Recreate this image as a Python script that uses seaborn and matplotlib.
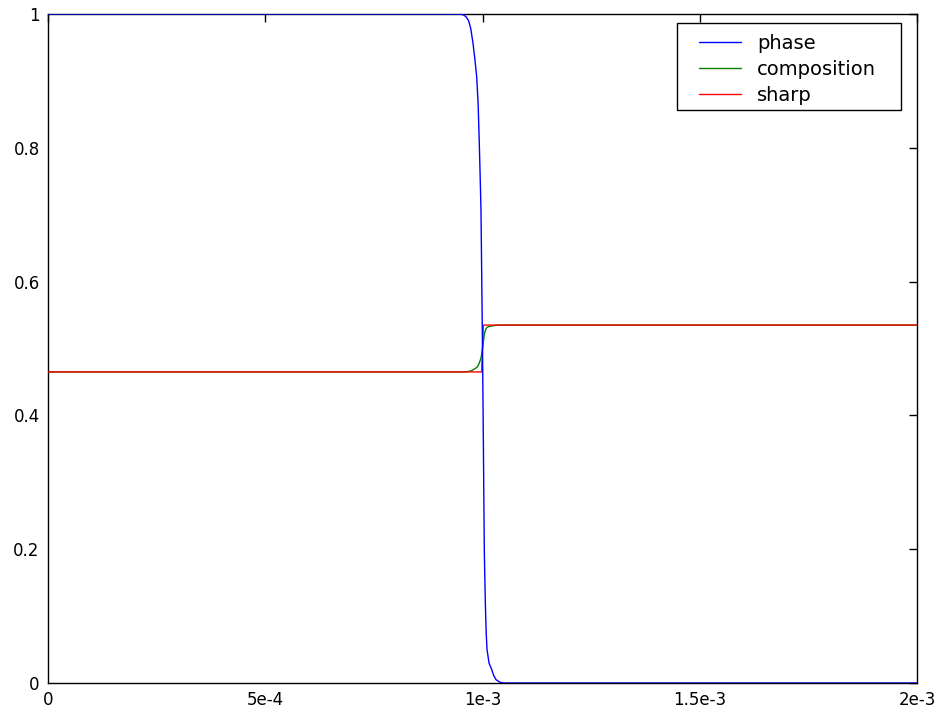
import matplotlib
matplotlib.use("Agg")
import matplotlib.pyplot as plt
from matplotlib.patches import Rectangle
import seaborn as sns
import pandas as pd

# profiles (x in units of 1e-3)
x_phase = [0.0, 0.9, 0.945, 0.955, 0.962, 0.968, 0.973, 0.978, 0.982, 0.9867, 0.990,
           0.9926, 0.9945, 0.9965, 0.998, 1.0, 1.002, 1.0041, 1.0065, 1.0085, 1.0104,
           1.015, 1.0212, 1.026, 1.0311, 1.0403, 1.05, 2.0]
phase = [1.0, 1.0, 1.0, 0.999, 0.996, 0.99, 0.978, 0.957, 0.935, 0.906, 0.865,
         0.807, 0.76, 0.707, 0.62, 0.5, 0.36, 0.2, 0.12, 0.075, 0.05,
         0.03, 0.02, 0.011, 0.005, 0.001, 0.0, 0.0]
composition = [0.465, 0.465, 0.465, 0.465, 0.4653, 0.4657, 0.4665, 0.468, 0.4696, 0.4716, 0.4745,
               0.4785, 0.4818, 0.4855, 0.4916, 0.5, 0.5098, 0.521, 0.5266, 0.5298, 0.5315,
               0.5329, 0.5336, 0.5342, 0.5347, 0.5349, 0.535, 0.535]
x_sharp = [0.0, 0.998, 1.0, 1.002, 2.0]
sharp = [0.465, 0.465, 0.5, 0.535, 0.535]

df_p = pd.DataFrame({"x": [v * 1e-3 for v in x_phase], "phase": phase, "composition": composition})
df_s = pd.DataFrame({"x": [v * 1e-3 for v in x_sharp], "sharp": sharp})

sns.set_style("white")
plt.rcParams["font.family"] = ["DejaVu Sans"]
plt.rcParams["text.color"] = "black"
plt.rcParams["xtick.color"] = "black"
plt.rcParams["ytick.color"] = "black"

fig = plt.figure(figsize=(9.41, 7.11), dpi=100)
ax = fig.add_axes([48 / 941, 1 - 683 / 711, (917 - 48) / 941, (683 - 14) / 711])

sns.lineplot(data=df_p, x="x", y="phase", color="b", lw=1.0, label="phase", ax=ax, zorder=4)
sns.lineplot(data=df_p, x="x", y="composition", color="g", lw=1.0, label="composition", ax=ax, zorder=2)
sns.lineplot(data=df_s, x="x", y="sharp", color="r", lw=1.0, label="sharp", ax=ax, zorder=3)

ax.set_xlim(0, 2e-3)
ax.set_ylim(0, 1)
ax.set_xticks([0, 5e-4, 1e-3, 1.5e-3, 2e-3])
ax.set_xticklabels(["0", "5e-4", "1e-3", "1.5e-3", "2e-3"])
ax.set_yticks([0, 0.2, 0.4, 0.6, 0.8, 1])
ax.set_yticklabels(["0", "0.2", "0.4", "0.6", "0.8", "1"])
ax.tick_params(which="both", direction="in", top=True, right=True, length=6, width=1,
               labelsize=12, colors="black", pad=6)
ax.set_xlabel("")
ax.set_ylabel("")
for s in ax.spines.values():
    s.set_color("black")
    s.set_linewidth(1.0)

# legend entries without frame; frame drawn as a separate box with wider side padding
leg = ax.legend(loc="upper right", bbox_to_anchor=(876 / 941, 1 - 34 / 711),
                bbox_transform=fig.transFigure, fontsize=14, frameon=False,
                handlelength=2.2, handletextpad=0.8, borderaxespad=0, borderpad=0,
                labelspacing=0.35)
leg.set_zorder(6)
frame = Rectangle((677 / 941, 1 - 110 / 711), (901 - 677) / 941, (110 - 23) / 711,
                  transform=fig.transFigure, facecolor="white", edgecolor="black",
                  lw=1.0, zorder=5)
ax.add_artist(frame)
frame.set_clip_on(False)

fig.savefig("out.png", dpi=100)
